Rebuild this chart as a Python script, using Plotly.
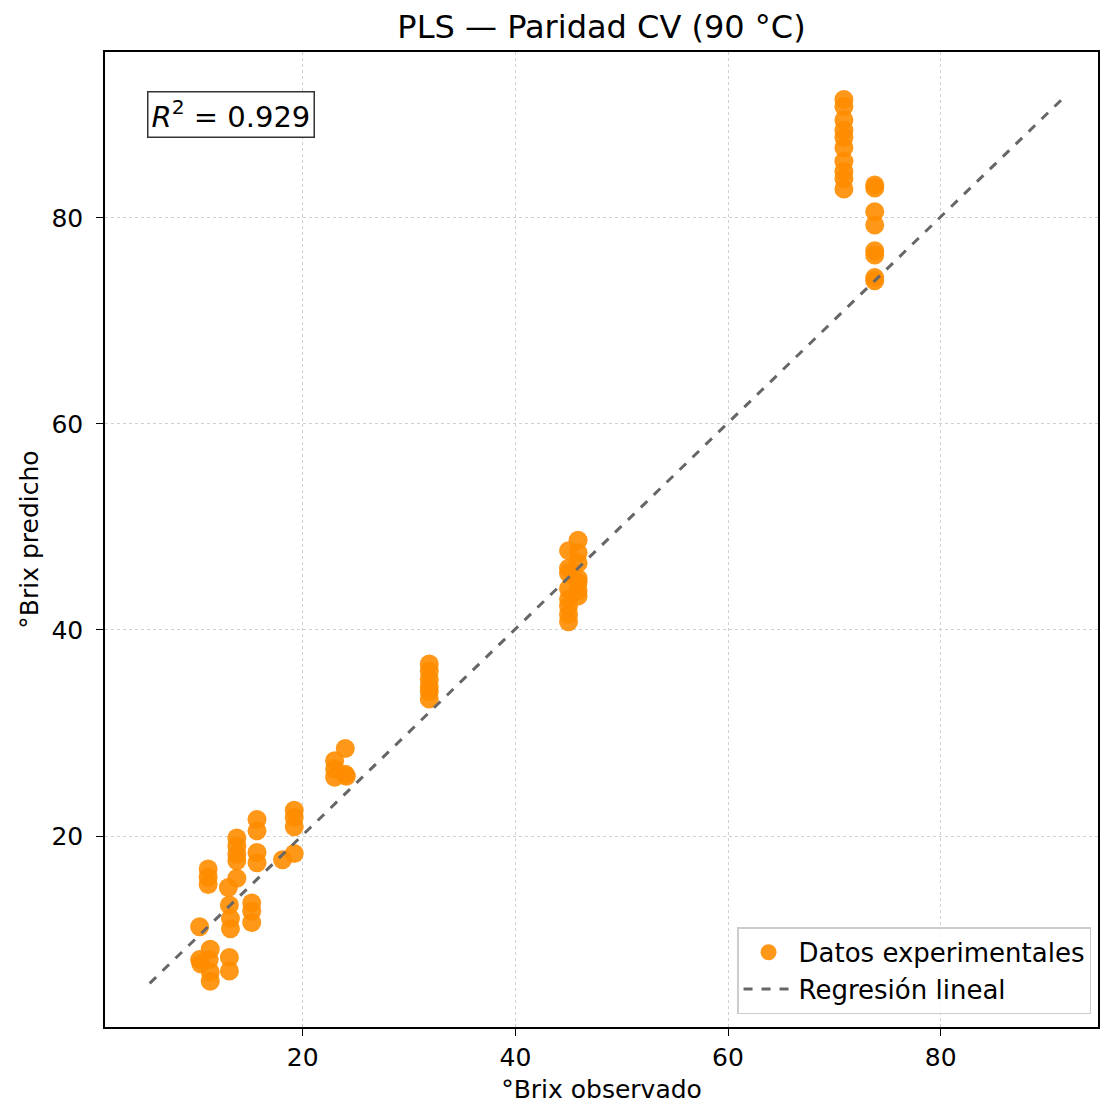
import plotly.graph_objects as go

obs = [
    70.9, 70.9, 70.9, 70.9, 70.9, 70.9, 70.9, 70.9, 70.9, 70.9,
    73.8, 73.8, 73.8, 73.8, 73.8, 73.8, 73.8, 73.8,
    45.0, 45.0, 45.0, 45.0, 45.0, 45.0, 45.0, 45.0,
    45.9, 45.9, 45.9, 45.9, 45.9, 45.9, 45.9,
    31.9, 31.9, 31.9, 31.9, 31.9, 31.9,
    23.0, 23.0, 23.0, 24.0, 24.0, 24.1,
    13.8, 13.8, 13.8, 13.8,
    15.7, 15.7, 15.7, 15.7,
    19.2, 19.2, 19.2, 19.2, 18.1,
    11.1, 11.1, 11.1,
    13.0, 13.8,
    13.1, 13.2, 13.2,
    15.2, 15.2, 15.2,
    10.3, 10.3, 10.4, 11.3, 11.2, 11.3, 11.3,
    13.1, 13.1,
]
pred = [
    91.5, 90.8, 89.5, 88.5, 87.8, 86.8, 85.5, 84.5, 83.8, 82.8,
    83.2, 82.9, 80.6, 79.3, 76.8, 76.4, 74.2, 73.9,
    47.7, 46.0, 45.5, 44.0, 43.0, 42.3, 41.5, 40.8,
    48.7, 47.5, 46.5, 45.0, 44.6, 43.8, 43.3,
    36.7, 36.0, 35.2, 34.5, 34.0, 33.3,
    27.3, 26.5, 25.7, 28.5, 26.0, 25.8,
    19.8, 19.0, 18.2, 17.6,
    21.6, 20.5, 18.4, 17.4,
    22.5, 21.8, 20.9, 18.3, 17.7,
    16.8, 16.0, 15.3,
    15.0, 15.9,
    13.3, 12.0, 11.0,
    13.5, 12.7, 11.6,
    11.2, 8.0, 7.6, 9.0, 8.0, 6.8, 5.9,
    8.2, 6.9,
]

# Regression line endpoints
line_x = [5.6, 91.7]
line_y = [5.7, 91.8]

x_ticks = [20, 40, 60, 80]
y_ticks = [20, 40, 60, 80]

FONT = "DejaVu Sans"

fig = go.Figure()
fig.add_trace(go.Scatter(
    x=obs, y=pred, mode="markers", name="Datos experimentales",
    marker=dict(color="#FF8C00", size=19, opacity=0.9, line=dict(width=0)),
))
fig.add_trace(go.Scatter(
    x=line_x, y=line_y, mode="lines", name="Regresión lineal",
    line=dict(color="#666666", width=3, dash="dash"),
))

axis_common = dict(
    showline=True, linecolor="black", linewidth=1.5, mirror=True,
    ticks="outside", ticklen=7, tickwidth=1.3, tickcolor="black",
    showgrid=True, gridcolor="#d0d0d0", griddash="dot", gridwidth=1.2,
    zeroline=False, tickfont=dict(size=25, color="black", family=FONT),
)

fig.update_layout(
    width=1106, height=1111,
    margin=dict(l=105, r=6, t=52, b=84),
    paper_bgcolor="white", plot_bgcolor="white",
    font=dict(family=FONT, color="black"),
    title=dict(text="PLS — Paridad CV (90 °C)", xref="paper", x=0.5, xanchor="center",
               y=0.976, yanchor="middle", font=dict(size=32, family=FONT, color="black")),
    xaxis=dict(range=[1.4, 94.8], tickvals=x_ticks,
               title=dict(text="°Brix observado", standoff=10,
                          font=dict(size=25, family=FONT, color="black")),
               **axis_common),
    yaxis=dict(range=[1.46, 96.1], tickvals=y_ticks, ticklabelstandoff=8,
               title=dict(text="°Brix predicho", standoff=6,
                          font=dict(size=25, family=FONT, color="black")),
               **axis_common),
    legend=dict(x=0.993, y=0.013, xanchor="right", yanchor="bottom",
                bgcolor="rgba(255,255,255,0.8)", bordercolor="#cccccc", borderwidth=1.5,
                font=dict(size=26, family=FONT, color="black"), itemwidth=50,
                tracegroupgap=2),
    showlegend=True,
)

fig.add_annotation(
    xref="paper", yref="paper", x=0.042, y=0.96, xanchor="left", yanchor="top",
    text="<i>R</i><sup>2</sup> = 0.929", showarrow=False,
    font=dict(size=29, family=FONT, color="black"),
    bordercolor="#333333", borderwidth=1.5, borderpad=3, bgcolor="white",
)

fig.write_html("out.html")
